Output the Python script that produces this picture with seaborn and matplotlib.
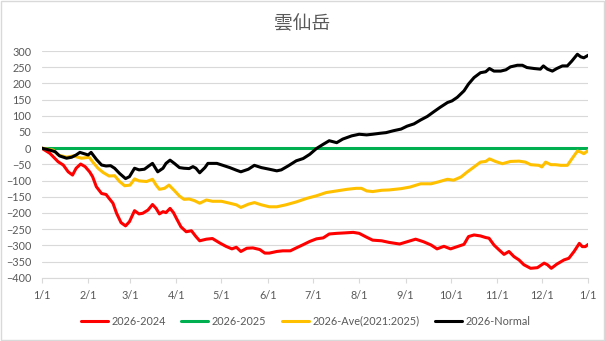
import numpy as np
import pandas as pd
import matplotlib
matplotlib.use("Agg")
import matplotlib.pyplot as plt
from matplotlib.lines import Line2D
from matplotlib.patches import Rectangle
import seaborn as sns

title = "雲仙岳"
series_names = ["2026-2024", "2026-2025", "2026-Ave(2021:2025)", "2026-Normal"]
series_colors = ["#FF0000", "#00B050", "#FFC000", "#000000"]

tick_days = [0, 31, 59, 90, 120, 151, 181, 212, 243, 273, 304, 334, 365]
tick_labels = ["1/1", "2/1", "3/1", "4/1", "5/1", "6/1", "7/1", "8/1",
               "9/1", "10/1", "11/1", "12/1", "1/1"]
y_ticks = list(range(-400, 301, 50))

# 2026-2024
days_r = [0, 5.5, 11, 14.4, 17.7, 20.6, 23, 26, 29, 32, 34, 36.5, 40, 43, 45, 47.6, 50, 53, 56, 58.6,
          62, 65, 67.5, 71, 74, 76.4, 78.6, 81, 83, 85.7, 88, 90, 93, 96.5, 100, 103, 105.5, 110, 114, 119,
          123, 127, 130, 133, 137, 141, 145.6, 149, 152, 157, 161, 166, 170, 174.6, 179, 183.5, 188, 192, 197, 201,
          208, 212, 217, 221, 227, 232, 239, 244, 249.7, 255, 260, 264, 268.6, 273, 277.5, 282, 285, 288.7, 293, 296.5,
          298.7, 302, 305.4, 308.7, 312, 315.4, 318.7, 322, 326.5, 331, 335.5, 337.7, 340.3, 344, 348.8, 352, 355.5, 359, 361, 363,
          365]
vals_r = [0, -16, -42, -52, -73, -83, -62, -49, -57, -73, -88, -119, -140, -143, -155, -170, -201, -230, -240, -227,
          -193, -203, -201, -191, -174, -186, -203, -196, -199, -186, -199, -217, -243, -258, -255, -273, -286, -281, -279, -293,
          -303, -311, -306, -319, -309, -308, -313, -324, -324, -319, -317, -317, -308, -298, -288, -280, -277, -265, -263, -262,
          -260, -263, -275, -284, -286, -291, -296, -289, -281, -289, -299, -311, -303, -311, -304, -297, -273, -268, -271, -276,
          -278, -299, -314, -328, -319, -335, -345, -360, -371, -369, -355, -360, -371, -358, -345, -340, -319, -294, -304, -304,
          -297]

# 2026-2025
days_g = [0, 365]
vals_g = [0, 0]

# 2026-Ave(2021:2025)
days_y = [0, 7.7, 11, 16.6, 21, 26.6, 31.7, 34, 37.6, 41, 45, 48.7, 52, 55.4, 59, 62, 65, 70, 74, 76.4,
          78.6, 82, 85, 88.6, 92, 95, 98.5, 102, 105.5, 110, 114, 120, 125.6, 130, 133, 138, 142, 146.7, 152, 157,
          163, 170, 177, 183.5, 190, 197, 204, 210, 213.5, 217, 221, 227, 232, 240, 246, 253, 260, 265, 271, 275,
          280, 284, 288.7, 293, 296.5, 299, 303, 307.6, 313, 318.7, 323, 326.5, 332, 334, 336.5, 340, 343, 346.6, 351, 354,
          357.7, 360, 362, 365]
vals_y = [0, -6, -21, -28, -24, -31, -28, -42, -62, -75, -86, -85, -103, -116, -114, -95, -101, -103, -96, -114,
          -127, -124, -114, -131, -148, -158, -157, -162, -170, -160, -164, -164, -170, -175, -183, -173, -168, -175, -181, -181,
          -175, -166, -155, -147, -137, -132, -127, -124, -124, -132, -134, -130, -129, -125, -120, -110, -110, -104, -96, -99,
          -89, -74, -58, -43, -41, -33, -41, -48, -41, -40, -43, -51, -53, -58, -43, -51, -51, -53, -53, -33,
          -9, -12, -17, -7]

# 2026-Normal
days_k = [0, 5.5, 9, 12, 16.6, 20, 23, 25.5, 29, 31, 33, 36.6, 40, 43, 46, 48.7, 52, 56, 58.6, 62,
          65, 68.6, 71.5, 74, 77.5, 81, 83, 85.7, 88.6, 92, 95, 98.5, 101, 103, 105.5, 109, 111, 117, 121, 125.6,
          130, 133, 138, 142, 146.7, 152, 157, 160, 164.5, 170, 174.6, 179, 183.5, 188, 192, 197, 201, 207, 212, 217,
          221, 226, 230, 235, 240, 244, 248.6, 253, 257.5, 262, 266, 271, 274, 277.5, 282, 285, 288.7, 293, 296.5, 299,
          302, 306.5, 310, 313, 317.6, 321, 324, 328.7, 333, 335, 337.7, 341, 344, 347.7, 351, 354, 357.7, 360, 362, 365]
vals_k = [0, -6, -11, -24, -31, -28, -21, -13, -18, -21, -13, -35, -52, -55, -54, -62, -78, -94, -88, -62,
          -67, -65, -55, -47, -73, -62, -47, -37, -47, -60, -62, -63, -57, -62, -76, -60, -47, -47, -53, -60,
          -68, -73, -65, -53, -60, -65, -70, -67, -55, -39, -32, -19, -1, 12, 23, 17, 28, 38, 43, 41,
          43, 46, 48, 54, 59, 68, 75, 87, 98, 113, 126, 141, 146, 157, 177, 198, 218, 233, 236, 246,
          238, 238, 242, 251, 256, 256, 249, 246, 244, 254, 244, 238, 246, 254, 254, 269, 290, 282, 279, 287]

frames = []
for name, d, v in zip(series_names, [days_r, days_g, days_y, days_k], [vals_r, vals_g, vals_y, vals_k]):
    frames.append(pd.DataFrame({"day": d, "value": v, "series": name}))
df = pd.concat(frames, ignore_index=True)

sns.set_theme(style="white")
plt.rcParams["font.family"] = ["Lato", "Noto Sans CJK JP", "DejaVu Sans"]

fig = plt.figure(figsize=(6.05, 3.41), dpi=100)
ax = fig.add_axes([0.0689, 0.1856, 0.9035, 0.6648])

palette = dict(zip(series_names, series_colors))
sns.lineplot(data=df, x="day", y="value", hue="series", hue_order=series_names,
             palette=palette, linewidth=2.2, legend=False, errorbar=None, ax=ax)

ax.set_xlim(0, 365)
ax.set_ylim(-400, 300)
ax.set_yticks(y_ticks)
ax.set_xticks(tick_days)
ax.set_xticklabels(tick_labels)
ax.set_xlabel("")
ax.set_ylabel("")
ax.grid(axis="y", color="#D9D9D9", linewidth=0.8)
ax.set_axisbelow(True)
for s in ["top", "right", "left"]:
    ax.spines[s].set_visible(False)
ax.spines["bottom"].set_color("#D9D9D9")
ax.spines["bottom"].set_linewidth(0.8)
ax.tick_params(axis="y", length=0, pad=7.5, labelsize=7.8, labelcolor="#595959")
ax.tick_params(axis="x", length=3.6, width=0.8, color="#D9D9D9", pad=5,
               labelsize=7.8, labelcolor="#595959", bottom=True)

fig.text(0.5, 0.93, title, ha="center", va="center", fontsize=13.5, color="#595959",
         family=["Noto Sans CJK JP", "DejaVu Sans"])

handles = [Line2D([0], [0], color=c, lw=2.2) for c in series_colors]
fig.legend(handles, series_names, loc="center", bbox_to_anchor=(0.505, 0.058), ncol=4,
           frameon=False, fontsize=7.8, handlelength=2.5, handletextpad=0.3,
           columnspacing=1.45, labelcolor="#595959")

fig.patches.append(Rectangle((0.0015, 0.0025), 0.997, 0.995, transform=fig.transFigure,
                             fill=False, edgecolor="#D9D9D9", linewidth=1.0))

fig.savefig("out.png", dpi=100)
